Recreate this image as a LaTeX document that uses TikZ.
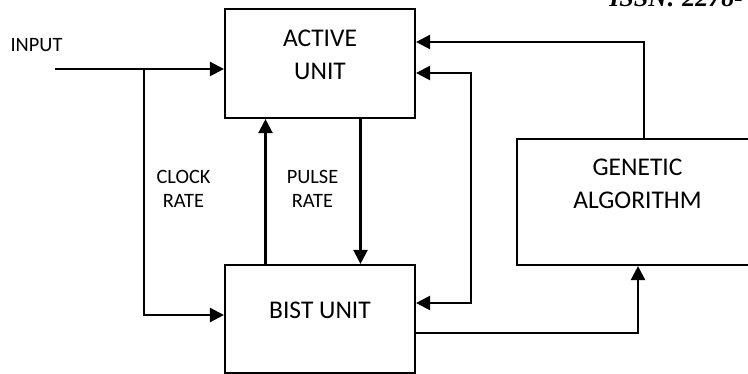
\documentclass[tikz,border=0pt]{standalone}
\usepackage{fontspec}
\setmainfont{Carlito}
\newfontfamily\headfont{Liberation Serif}
\usetikzlibrary{positioning}
\usetikzlibrary{arrows.meta}

\begin{document}
\begin{tikzpicture}[
    unit/.style={draw, line width=1.2pt, minimum width=3.8cm},
    boxtext/.style={align=center, font=\fontsize{14.5}{18.7}\selectfont},
    smalltext/.style={align=center, font=\fontsize{11.6}{13.9}\selectfont},
    link/.style={line width=1.3pt, -{Triangle[length=0.28cm, width=0.28cm]}},
    twoway/.style={line width=1.3pt, {Triangle[length=0.28cm, width=0.28cm]}-{Triangle[length=0.28cm, width=0.28cm]}}
    ]
    \clip (0,0) rectangle (14.96,7.48);

    % Header
    \node[anchor=base west, inner sep=0pt, font={\headfont\fontsize{14.8}{18}\selectfont\bfseries\itshape}] (issn) at (12.18,7.34) {ISSN: 2278-};

    % Active unit
    \node[unit, minimum height=2.18cm] (active) at (6.4,6.21) {};
    \node[boxtext] (activetext) at (6.4,6.38) {ACTIVE\\UNIT};

    % BIST unit
    \node[unit, minimum height=2.16cm] (bist) at (6.4,1.10) {};
    \node[boxtext] (bisttext) at (6.4,1.27) {BIST UNIT};

    % Genetic algorithm
    \node[unit, minimum width=5.06cm, minimum height=2.52cm] (ga) at (12.87,3.44) {};
    \node[boxtext] (gatext) at (12.75,3.80) {GENETIC\\ALGORITHM};

    % Input and clock
    \node[smalltext] (input) at (0.73,6.57) {INPUT};
    \coordinate (in) at (1.1,6.10);
    \coordinate (split) at (2.88,6.10);
    \draw[link] (in) -- (in -| active.west);
    \draw[link] (split) |- ([yshift=0.08cm]bist.west);
    \node[smalltext] (clock) at (3.67,3.70) {CLOCK\\RATE};

    % Pulse rate
    \node[smalltext] (pulse) at (6.25,3.70) {PULSE\\RATE};
    \draw[link] ([xshift=-1.09cm]bist.north) -- ([xshift=-1.09cm]active.south);
    \draw[link] ([xshift=0.81cm]active.south) -- ([xshift=0.81cm]bist.north);

    % Feedback loops
    \draw[link] ([xshift=0.01cm]ga.north) |- ([yshift=0.43cm]active.east);
    \coordinate (back) at (9.42,6.02);
    \draw[twoway] ([yshift=0.32cm]bist.east) -| (back) -- (back -| active.east);
    \draw[link] ([yshift=-0.28cm]bist.east) -| ([xshift=-0.11cm]ga.south);
\end{tikzpicture}
\end{document}
